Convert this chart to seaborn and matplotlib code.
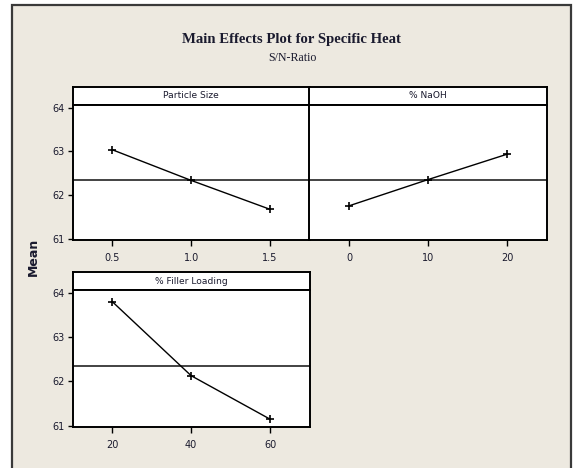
import matplotlib
matplotlib.use("Agg")
import matplotlib.pyplot as plt
import seaborn as sns
import pandas as pd
from matplotlib.patches import Rectangle

# ---- data ----
particle_size = [0.5, 1.0, 1.5]
particle_mean = [63.04, 62.34, 61.68]
naoh = [0, 10, 20]
naoh_mean = [61.76, 62.36, 62.94]
filler = [20, 40, 60]
filler_mean = [63.80, 62.13, 61.15]
grand_mean = 62.35
y_ticks = [61, 62, 63, 64]
panel_titles = ["Particle Size", "% NaOH", "% Filler Loading"]
x_tick_labels = [["0.5", "1.0", "1.5"], ["0", "10", "20"], ["20", "40", "60"]]

sns.set_theme(style="white")
plt.rcParams['font.family'] = ['DejaVu Sans']

W, H = 573, 468
fig = plt.figure(figsize=(W / 100, H / 100), dpi=100)
fig.patch.set_facecolor("white")

BG = "#EDE9E0"
TXT = "#1a1a2e"

def fr(x0, y0, x1, y1):
    # pixel box (top-left origin) -> figure rect
    return [x0 / W, 1 - y1 / H, (x1 - x0) / W, (y1 - y0) / H]

# outer frame (background axes)
bg = fig.add_axes([0, 0, 1, 1], zorder=-10)
bg.set_xlim(0, W); bg.set_ylim(H, 0)
bg.axis("off")
bg.add_patch(Rectangle((11.7, 5.3), 571 - 11.7, H + 20, facecolor=BG,
                       edgecolor="#3a3a3a", linewidth=1.6))

fig.text(292 / W, 1 - 40 / H, "Main Effects Plot for Specific Heat",
         family="Liberation Serif", fontweight="bold", fontsize=10.6,
         ha="center", va="center", color=TXT)
fig.text(292 / W, 1 - 58 / H, "S/N-Ratio", family="Liberation Serif",
         fontsize=8.6, ha="center", va="center", color=TXT)

L, M, R = 72.7, 309.5, 547
panels = [
    (L, M, 86.7, 105, 240, particle_size, particle_mean, (0.25, 1.75)),
    (M, R, 86.7, 105, 240, naoh, naoh_mean, (-5, 25)),
    (L, M, 272.3, 290, 426.7, filler, filler_mean, (10, 70)),
]

for i, (x0, x1, st, top, bot, xs, ys, xl) in enumerate(panels):
    # strip
    sax = fig.add_axes(fr(x0, st, x1, top))
    sax.set_facecolor("white")
    sax.set_xticks([]); sax.set_yticks([])
    for sp in sax.spines.values():
        sp.set_color("black"); sp.set_linewidth(1.4)
    sax.text(0.5, 0.5, panel_titles[i], ha="center", va="center",
             fontsize=6.6, color=TXT, transform=sax.transAxes)

    ax = fig.add_axes(fr(x0, top, x1, bot))
    ax.set_facecolor("white")
    df = pd.DataFrame({"x": xs, "y": ys})
    ax.axhline(grand_mean, color="#222222", linewidth=1.2, zorder=1)
    sns.lineplot(data=df, x="x", y="y", ax=ax, color="black", linewidth=1.0,
                 marker="+", markersize=5.5, markeredgewidth=1.2,
                 markeredgecolor="black", zorder=3)
    ax.set_xlim(*xl)
    ax.set_ylim(60.98, 64.06)
    ax.set_xlabel(""); ax.set_ylabel("")
    for sp in ax.spines.values():
        sp.set_color("black"); sp.set_linewidth(1.4)
    ax.set_xticks(xs)
    ax.set_xticklabels(x_tick_labels[i])
    ax.tick_params(axis="x", bottom=True, length=4.5, width=1, color="black",
                   labelsize=7, labelcolor=TXT, pad=5)
    if i == 1:
        ax.set_yticks([])
    else:
        ax.set_yticks(y_ticks)
        ax.set_yticklabels([str(t) for t in y_ticks])
        ax.tick_params(axis="y", left=True, length=3.5, width=1, color="black",
                       labelsize=7, labelcolor=TXT, pad=2)

fig.text(33 / W, 1 - 257 / H, "Mean", rotation=90, fontweight="bold",
         fontsize=9, ha="center", va="center", color=TXT)

fig.savefig("out.png", dpi=100, facecolor=fig.get_facecolor())
